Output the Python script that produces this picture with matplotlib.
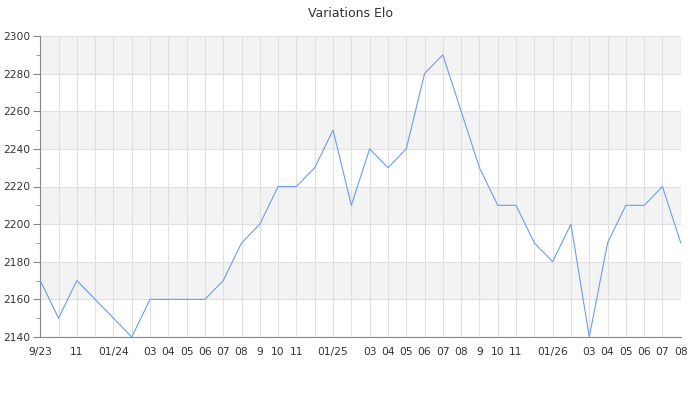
import matplotlib
matplotlib.use('Agg')
import matplotlib.pyplot as plt
from matplotlib.ticker import MultipleLocator

# données : un point par mois, de 9/23 à 08/26
elo = [2170, 2150, 2170, 2160, 2150, 2140, 2160, 2160, 2160, 2160,
       2170, 2190, 2200, 2220, 2220, 2230, 2250, 2210, 2240, 2230,
       2240, 2280, 2290, 2260, 2230, 2210, 2210, 2190, 2180, 2200,
       2140, 2190, 2210, 2210, 2220, 2190]
month_labels = ['9/23', '', '11', '', '01/24', '', '03', '04', '05', '06',
                '07', '08', '9', '10', '11', '', '01/25', '', '03', '04',
                '05', '06', '07', '08', '9', '10', '11', '', '01/26', '',
                '03', '04', '05', '06', '07', '08']
y_min, y_max, y_step = 2140, 2300, 20

x = list(range(len(elo)))

fig = plt.figure(figsize=(7, 4), dpi=100)
ax = fig.add_axes([0.0575, 0.1575, 0.915, 0.7525])

# bandes grises alternées
for i, y0 in enumerate(range(y_min, y_max, y_step)):
    if i % 2 == 1:
        ax.axhspan(y0, y0 + y_step, color='#f3f3f3', zorder=0, lw=0)

ax.plot(x, elo, color='#6d9cf0', lw=0.8, zorder=3)

ax.set_xlim(0, len(elo) - 1)
ax.set_ylim(y_min, y_max)
ax.set_xticks(x)
ax.set_xticklabels(month_labels)
ax.yaxis.set_major_locator(MultipleLocator(y_step))
ax.yaxis.set_minor_locator(MultipleLocator(y_step / 2))

ax.grid(True, which='major', color='#e0e0e0', lw=0.8, zorder=1)
ax.set_axisbelow(True)

for side in ['top', 'right']:
    ax.spines[side].set_visible(False)
for side in ['left', 'bottom']:
    ax.spines[side].set_color('#888888')
    ax.spines[side].set_linewidth(0.8)

ax.tick_params(axis='x', length=0, pad=7, labelsize=7.7, labelcolor='#333333')
ax.tick_params(axis='y', which='major', length=5, color='#888888',
               labelsize=7.7, labelcolor='#333333', pad=2)
ax.tick_params(axis='y', which='minor', length=3, color='#888888')

fig.suptitle('Variations Elo', y=0.982, fontsize=9, color='#333333')

plt.savefig('out.png', dpi=100)
